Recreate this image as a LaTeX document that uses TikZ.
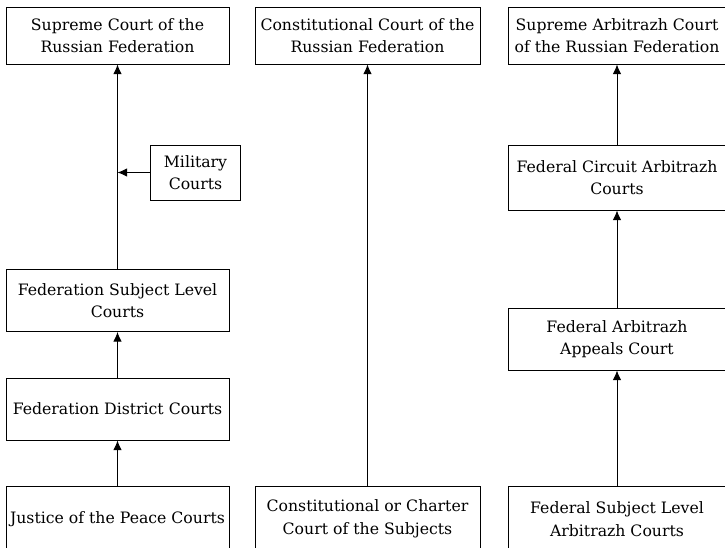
\documentclass[tikz,border=0pt]{standalone}
\usepackage{fontspec}
\setmainfont{DejaVu Serif}
\usetikzlibrary{arrows.meta}
\begin{document}
\begin{tikzpicture}[x=1pt,y=-1pt,
  court/.style={draw,line width=1pt,align=center,inner sep=0pt,
    font=\fontsize{15.7}{22.5}\selectfont},
  lw/.style={court,minimum width=223pt},
  mw/.style={court,minimum width=225pt},
  rw/.style={court,minimum width=218pt},
  up/.style={line width=1pt,-{Latex[length=9.5pt,width=8.5pt]}}]
\clip (0,0) rectangle (725,547);
% left column
\node[lw,minimum height=57pt] (sc) at (117.5,35.5) {Supreme Court of the\\Russian Federation};
\node[court,minimum width=90pt,minimum height=55pt] (mil) at (195.5,172.5) {Military\\Courts};
\node[lw,minimum height=62pt] (fsl) at (117.5,300.5) {Federation Subject Level\\Courts};
\node[lw,minimum height=62pt] (fd) at (117.5,409) {Federation District Courts};
\node[lw,minimum height=66pt] (jp) at (117.5,519) {Justice of the Peace Courts};
% middle column
\node[mw,minimum height=57pt] (cc) at (367.5,35.5) {Constitutional Court of the\\Russian Federation};
\node[mw,minimum height=66pt] (ccs) at (367.5,519) {Constitutional or Charter\\Court of the Subjects};
% right column
\node[rw,minimum height=57pt] (sac) at (617,35.5) {Supreme Arbitrazh Court\\of the Russian Federation};
\node[rw,minimum height=65pt] (fca) at (617,177.5) {Federal Circuit Arbitrazh\\Courts};
\node[rw,minimum height=62pt] (faa) at (617,339) {Federal Arbitrazh\\Appeals Court};
\node[rw,minimum height=66pt] (fsla) at (617,519) {Federal Subject Level\\Arbitrazh Courts};
% connectors
\draw[up] (jp.north) -- (fd.south);
\draw[up] (fd.north) -- (fsl.south);
\draw[up] (fsl.north) -- (sc.south);
\draw[up] (mil.west) -- (mil.west -| sc.south);
\draw[up] (ccs.north) -- (cc.south);
\draw[up] (fsla.north) -- (faa.south);
\draw[up] (faa.north) -- (fca.south);
\draw[up] (fca.north) -- (sac.south);
\end{tikzpicture}
\end{document}
